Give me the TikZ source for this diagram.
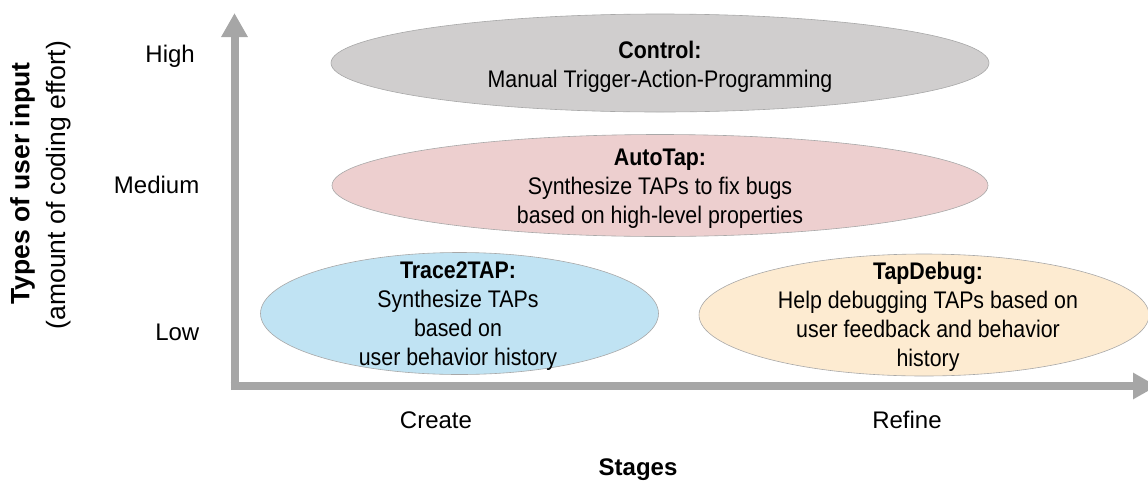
\documentclass[tikz,border=0pt]{standalone}
\usepackage{fontspec}
\setmainfont{Liberation Sans}
\usetikzlibrary{arrows.meta,shapes.geometric}
\definecolor{axisgray}{HTML}{A6A6A6}
\definecolor{edgegray}{HTML}{A8A8A8}
\definecolor{ctrlfill}{HTML}{D0CECE}
\definecolor{autofill}{HTML}{EDCFCF}
\definecolor{tracefill}{HTML}{C0E3F3}
\definecolor{debugfill}{HTML}{FDEBD1}
\tikzset{
  txt/.style={font=\fontsize{24}{29}\selectfont, align=center, inner sep=0pt},
  blobtxt/.style={txt, xscale=0.89},
  blob/.style={ellipse, draw=edgegray, line width=0.6pt, inner sep=0pt},
  axis/.style={draw=axisgray, line width=8pt, -{Triangle[width=25pt,length=24pt]}},
  ytitle/.style={txt, rotate=90, font=\fontsize{26.5}{30}\selectfont},
}
\begin{document}
\begin{tikzpicture}[x=1pt,y=-1pt]
\useasboundingbox (0,0) rectangle (1148,480);
% ellipses
\node[blob, fill=ctrlfill, minimum width=658pt, minimum height=98pt] (ctrl) at (660,63) {};
\node[blob, fill=autofill, minimum width=656pt, minimum height=102pt] (auto) at (660,185.5) {};
\node[blob, fill=tracefill, minimum width=398pt, minimum height=122pt] (trace) at (459.5,313.5) {};
\node[blob, fill=debugfill, minimum width=450pt, minimum height=122pt] (debug) at (924,315) {};
\node[blobtxt] (ctrltxt) at (660,66.5) {\textbf{Control:}\\Manual Trigger-Action-Programming};
\node[blobtxt] (autotxt) at (660,188.5) {\textbf{AutoTap:}\\Synthesize TAPs to fix bugs\\based on high-level properties};
\node[blobtxt] (tracetxt) at (458,316.5) {\textbf{Trace2TAP:}\\Synthesize TAPs\\based on\\user behavior history};
\node[blobtxt] (debugtxt) at (928,316.5) {\textbf{TapDebug:}\\Help debugging TAPs based on\\user feedback and behavior\\history};
% axes
\coordinate (ybot) at (234.5,390);
\coordinate (ytop) at (234.5,13);
\coordinate (xleft) at (230.5,386);
\coordinate (xright) at (1157,386);
\draw[axis] (ybot) -- (ytop);
\draw[axis] (xleft) -- (xright);
% axis labels
\node[txt, anchor=base east] (high) at (195,62) {High};
\node[txt, anchor=base east] (med) at (199.5,193) {Medium};
\node[txt, anchor=base east] (low) at (199.5,340) {Low};
\node[txt, anchor=base] (create) at (436,428) {Create};
\node[txt, anchor=base] (refine) at (907,428) {Refine};
\node[txt, anchor=base, font=\fontsize{24}{29}\selectfont\bfseries] (stages) at (638,475) {Stages};
\node[ytitle, font=\fontsize{26.5}{30}\selectfont\bfseries] (ytitlebold) at (22.5,183.5) {Types of user input};
\node[ytitle] (ysub) at (58.5,185) {(amount of coding effort)};
\end{tikzpicture}
\end{document}
